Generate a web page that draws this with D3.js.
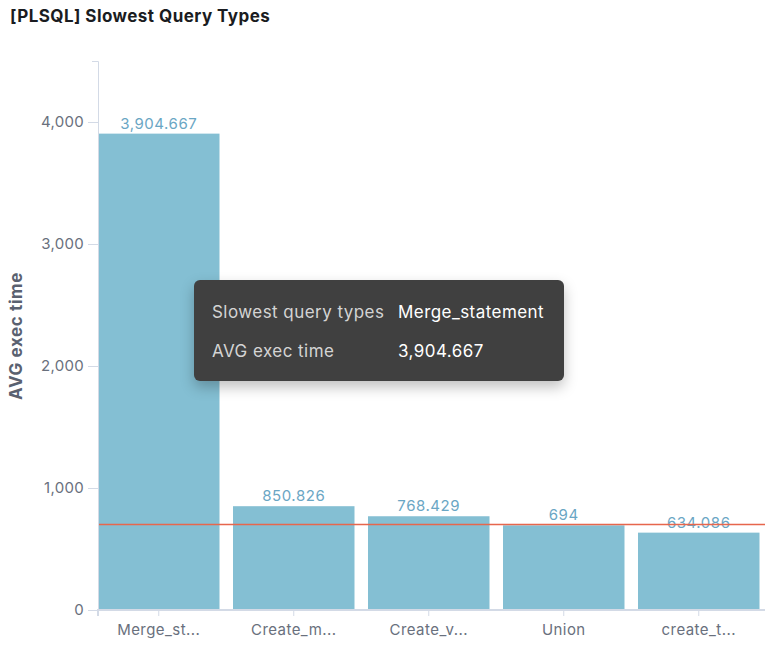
<!DOCTYPE html>
<meta charset="utf-8">
<html>
<head>
<title>slowest query types</title>
<script src="https://cdn.jsdelivr.net/npm/d3@7"></script>
<style>
  body { margin: 0; background: #fff; font-family: Inter, "Noto Sans", sans-serif; }
  .title { position: absolute; left: 10px; top: 6px; font-size: 17px; letter-spacing: 0.45px; font-weight: 700; color: #1a1c21; }
  .tip {
    position: absolute; left: 194px; top: 280px; width: 370px; height: 101px;
    background: #404040; border-radius: 6px; box-shadow: 0 6px 14px rgba(0,0,0,0.25);
    color: #fff; font-size: 17px; letter-spacing: 0.45px;
  }
  .tip .k { position: absolute; left: 18px; color: #d4d4d4; }
  .tip .v { position: absolute; left: 204px; color: #fff; }
</style>
</head>
<body>
<div class="title">[PLSQL] Slowest Query Types</div>
<div id="chart"></div>
<script>
var categories = ["Merge_statement", "Create_materialized_view", "Create_view", "Union", "create_table"];
var shortLabels = ["Merge_st...", "Create_m...", "Create_v...", "Union", "create_t..."];
var avgExec = [3904.667, 850.826, 768.429, 694, 634.086];
var yTicks = [0, 1000, 2000, 3000, 4000];
var threshold = 700;
var tipRows = [["Slowest query types", "Merge_statement"], ["AVG exec time", "3,904.667"]];

var W = 765, H = 663;
var svg = d3.select("#chart").append("svg")
    .attr("width", W).attr("height", H)
    .style("position", "absolute").style("left", 0).style("top", 0);

var x = d3.scaleBand().domain(categories).range([98, 759.5]).paddingInner(0.1).paddingOuter(0);
var y = d3.scaleLinear().domain([0, 4500]).range([610, 61]);

var fmt = function(v){ return d3.format(",")(v); };

// bars
svg.selectAll(".bar").data(avgExec).enter().append("rect")
    .attr("x", function(d,i){ return x(categories[i]); })
    .attr("y", function(d){ return y(d); })
    .attr("width", x.bandwidth())
    .attr("height", function(d){ return y(0) - y(d); })
    .style("fill", "#84bfd3");

svg.selectAll(".val").data(avgExec).enter().append("text")
    .attr("x", function(d,i){ return x(categories[i]) + x.bandwidth()/2; })
    .attr("y", function(d){ return y(d) - 5; })
    .attr("text-anchor", "middle")
    .style("font-size", "15px").style("letter-spacing", "0.55px")
    .style("fill", "#6aa6c4")
    .text(function(d){ return fmt(d); });

// threshold
svg.append("line")
    .attr("x1", 98).attr("x2", 765)
    .attr("y1", y(threshold)).attr("y2", y(threshold))
    .style("stroke", "#e7664c").style("stroke-width", 1.5);

// y axis
var yAxis = svg.append("g").attr("transform", "translate(98,0)")
    .call(d3.axisLeft(y).tickValues(yTicks).tickSize(10).tickSizeOuter(6).tickPadding(4).tickFormat(d3.format(",")));
yAxis.select(".domain").style("stroke", "#d3dae6");
yAxis.selectAll(".tick line").style("stroke", "#d3dae6");
yAxis.selectAll("text").style("font-size", "15px").style("letter-spacing", "0.3px").style("fill", "#69707d").style("font-family", "Inter, sans-serif");

// x axis
var xAxis = svg.append("g").attr("transform", "translate(0,610)")
    .call(d3.axisBottom(x).tickSize(6).tickSizeOuter(6).tickPadding(8).tickFormat(function(d,i){ return shortLabels[i]; }));
xAxis.select(".domain").attr("d", "M98,6V0H765").style("stroke", "#d3dae6").style("stroke-width", 2);
xAxis.selectAll(".tick line").style("stroke", "#d3dae6");
xAxis.selectAll("text").style("font-size", "15px").style("letter-spacing", "0.45px").style("fill", "#69707d").style("font-family", "Inter, sans-serif");

// axis title
svg.append("text")
    .attr("transform", "translate(22,336) rotate(-90)")
    .attr("text-anchor", "middle")
    .style("font-size", "17px").style("letter-spacing", "0.6px").style("font-weight", "700").style("fill", "#5a6170")
    .text("AVG exec time");

// tooltip
var tip = d3.select("body").append("div").attr("class", "tip");
tipRows.forEach(function(r, i){
  tip.append("div").attr("class", "k").style("top", (22 + i*39) + "px").text(r[0]);
  tip.append("div").attr("class", "v").style("top", (22 + i*39) + "px").text(r[1]);
});
</script>
</body>
</html>
